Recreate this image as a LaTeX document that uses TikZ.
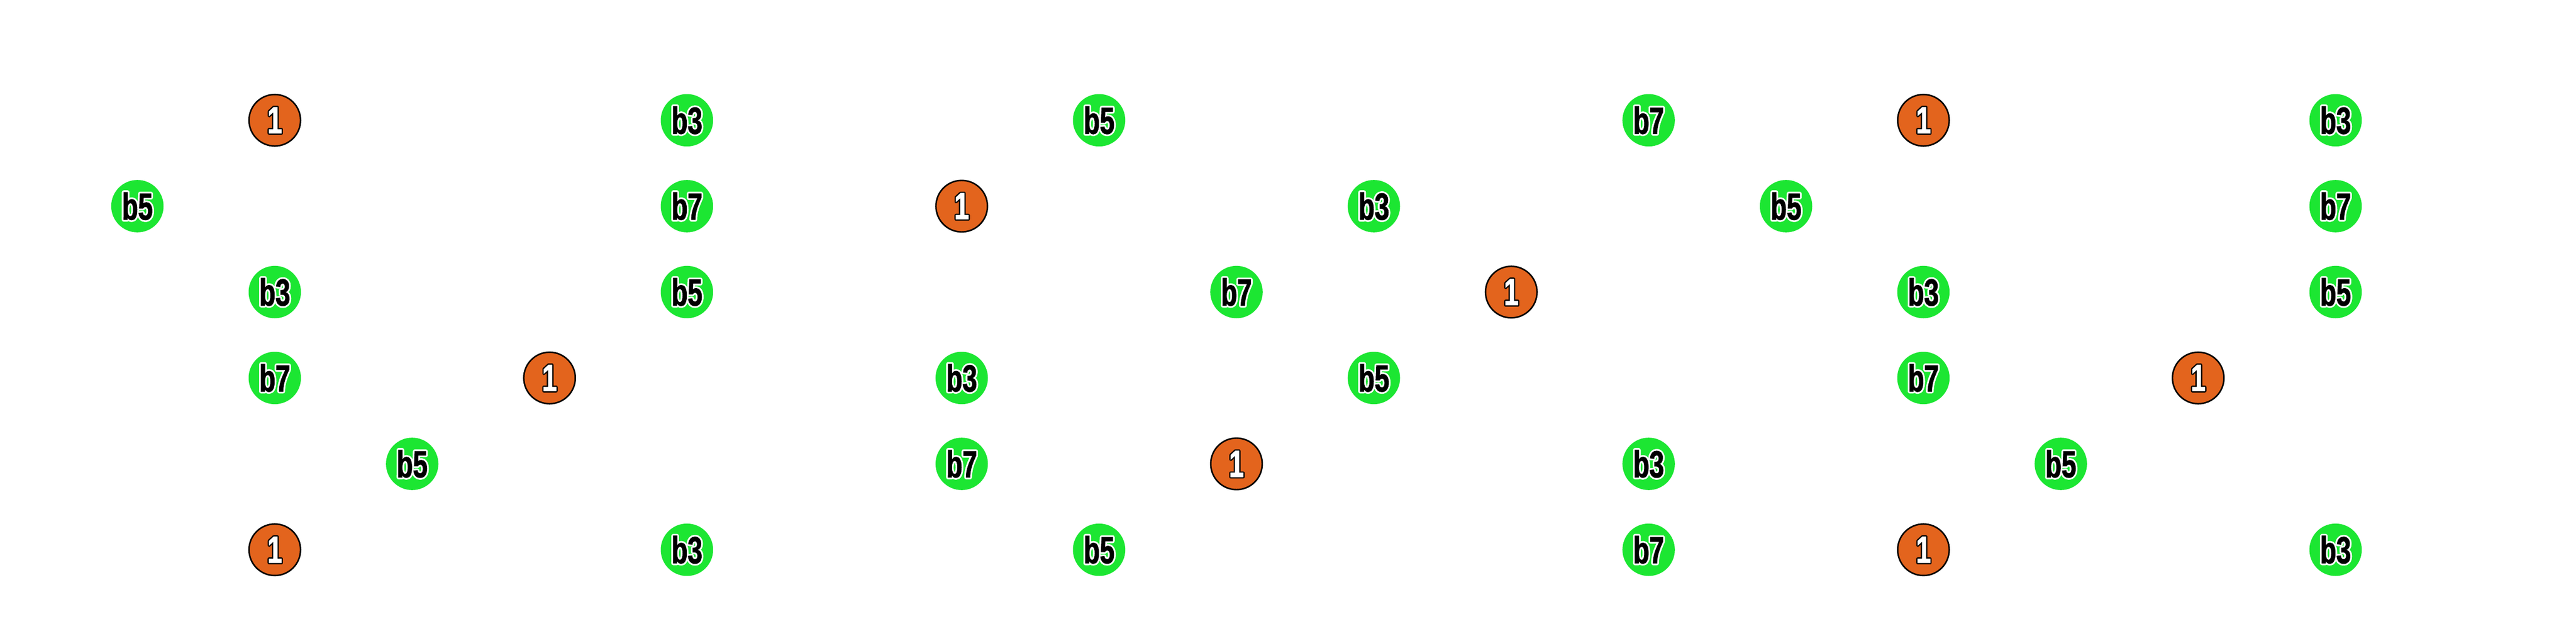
\documentclass[tikz,border=0pt]{standalone}
\usepackage{fontspec}
\setmainfont{Liberation Sans}[FakeStretch=0.7,BoldFeatures={FakeBold=1.5}]
\usetikzlibrary{calc}
\definecolor{rootc}{HTML}{E3641D}
\definecolor{notec}{HTML}{1CE632}
\tikzset{
  rootnode/.style={circle, fill=rootc, draw=black, line width=0.035cm, minimum size=1.2cm, inner sep=0pt},
  notenode/.style={circle, fill=notec, minimum size=1.22cm, inner sep=0pt},
  lbl/.style={font=\fontsize{25}{25}\selectfont\bfseries, inner sep=0pt},
}
\newcommand\putnote[4]{%
  \node[notenode] (#1) at (3.2*#2, -2.8-2*#3) {};
  \foreach \a in {0,30,...,330} \node[lbl, text=white] (#1-o\a) at ($(#1)+(\a:0.04)$) {#4};
  \node[lbl, text=black] (#1-t) at (#1) {#4};
}
\newcommand\putroot[3]{%
  \node[rootnode] (#1) at (3.2*#2, -2.8-2*#3) {};
  \foreach \a in {0,30,...,330} \node[lbl, text=black] (#1-o\a) at ($(#1)+(\a:0.03)$) {1};
  \node[lbl, text=white] (#1-t) at (#1) {1};
}
\begin{document}
\begin{tikzpicture}
\useasboundingbox (0,0) rectangle (60,-14.4);
% row 0
\putroot{r0a}{2}{0}
\putnote{n0a}{5}{0}{b3}
\putnote{n0b}{8}{0}{b5}
\putnote{n0c}{12}{0}{b7}
\putroot{r0b}{14}{0}
\putnote{n0d}{17}{0}{b3}
% row 1
\putnote{n1a}{1}{1}{b5}
\putnote{n1b}{5}{1}{b7}
\putroot{r1a}{7}{1}
\putnote{n1c}{10}{1}{b3}
\putnote{n1d}{13}{1}{b5}
\putnote{n1e}{17}{1}{b7}
% row 2
\putnote{n2a}{2}{2}{b3}
\putnote{n2b}{5}{2}{b5}
\putnote{n2c}{9}{2}{b7}
\putroot{r2a}{11}{2}
\putnote{n2d}{14}{2}{b3}
\putnote{n2e}{17}{2}{b5}
% row 3
\putnote{n3a}{2}{3}{b7}
\putroot{r3a}{4}{3}
\putnote{n3b}{7}{3}{b3}
\putnote{n3c}{10}{3}{b5}
\putnote{n3d}{14}{3}{b7}
\putroot{r3b}{16}{3}
% row 4
\putnote{n4a}{3}{4}{b5}
\putnote{n4b}{7}{4}{b7}
\putroot{r4a}{9}{4}
\putnote{n4c}{12}{4}{b3}
\putnote{n4d}{15}{4}{b5}
% row 5
\putroot{r5a}{2}{5}
\putnote{n5a}{5}{5}{b3}
\putnote{n5b}{8}{5}{b5}
\putnote{n5c}{12}{5}{b7}
\putroot{r5b}{14}{5}
\putnote{n5d}{17}{5}{b3}
\end{tikzpicture}
\end{document}
